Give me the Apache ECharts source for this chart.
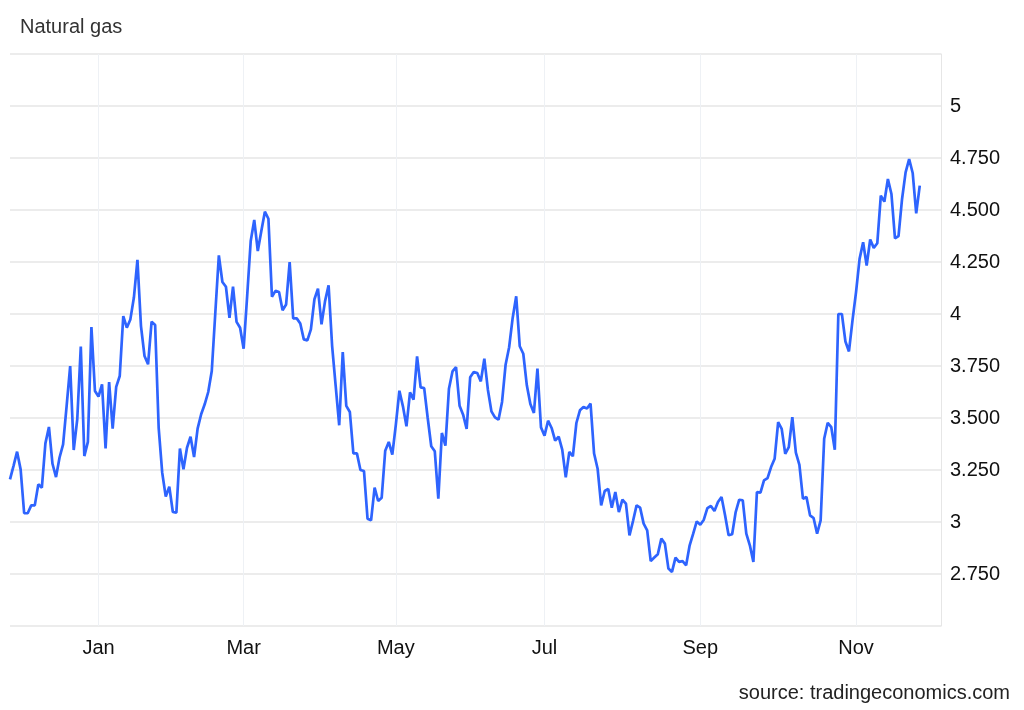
<!DOCTYPE html>
<html>
<head>
<meta charset="utf-8">
<script src="https://cdn.jsdelivr.net/npm/echarts@6/dist/echarts.min.js"></script>
<style>
  html, body { margin: 0; padding: 0; background: #ffffff; }
  #chart { width: 1024px; height: 710px; }
</style>
</head>
<body>
<div id="chart"></div>
<script>
// Trading days (categories)
const dates = [
  '2024-11-25','2024-11-26','2024-11-27','2024-11-29',
  '2024-12-02','2024-12-03','2024-12-04','2024-12-05','2024-12-06',
  '2024-12-09','2024-12-10','2024-12-11','2024-12-12','2024-12-13',
  '2024-12-16','2024-12-17','2024-12-18','2024-12-19','2024-12-20',
  '2024-12-23','2024-12-24','2024-12-26','2024-12-27','2024-12-30','2024-12-31',
  '2025-01-02','2025-01-03','2025-01-06','2025-01-07','2025-01-08','2025-01-09','2025-01-10',
  '2025-01-13','2025-01-14','2025-01-15','2025-01-16','2025-01-17',
  '2025-01-21','2025-01-22','2025-01-23','2025-01-24',
  '2025-01-27','2025-01-28','2025-01-29','2025-01-30','2025-01-31',
  '2025-02-03','2025-02-04','2025-02-05','2025-02-06','2025-02-07',
  '2025-02-10','2025-02-11','2025-02-12','2025-02-13','2025-02-14',
  '2025-02-17','2025-02-18','2025-02-19','2025-02-20','2025-02-21',
  '2025-02-24','2025-02-25','2025-02-26','2025-02-27','2025-02-28',
  '2025-03-03','2025-03-04','2025-03-05','2025-03-06','2025-03-07',
  '2025-03-10','2025-03-11','2025-03-12','2025-03-13','2025-03-14',
  '2025-03-17','2025-03-18','2025-03-19','2025-03-20','2025-03-21',
  '2025-03-24','2025-03-25','2025-03-26','2025-03-27','2025-03-28','2025-03-31',
  '2025-04-01','2025-04-02','2025-04-03','2025-04-04',
  '2025-04-07','2025-04-08','2025-04-09','2025-04-10','2025-04-11',
  '2025-04-14','2025-04-15','2025-04-16','2025-04-17','2025-04-18',
  '2025-04-21','2025-04-22','2025-04-23','2025-04-24','2025-04-25',
  '2025-04-28','2025-04-29','2025-04-30',
  '2025-05-01','2025-05-02',
  '2025-05-05','2025-05-06','2025-05-07','2025-05-08','2025-05-09',
  '2025-05-12','2025-05-13','2025-05-14','2025-05-15','2025-05-16',
  '2025-05-19','2025-05-20','2025-05-21','2025-05-22','2025-05-23',
  '2025-05-27','2025-05-28','2025-05-29','2025-05-30',
  '2025-06-02','2025-06-03','2025-06-04','2025-06-05','2025-06-06',
  '2025-06-09','2025-06-10','2025-06-11','2025-06-12','2025-06-13',
  '2025-06-16','2025-06-17','2025-06-18','2025-06-19','2025-06-20',
  '2025-06-23','2025-06-24','2025-06-25','2025-06-26','2025-06-27','2025-06-30',
  '2025-07-01','2025-07-02','2025-07-03','2025-07-04',
  '2025-07-07','2025-07-08','2025-07-09','2025-07-10','2025-07-11',
  '2025-07-14','2025-07-15','2025-07-16','2025-07-17','2025-07-18',
  '2025-07-21','2025-07-22','2025-07-23','2025-07-24','2025-07-25',
  '2025-07-28','2025-07-29','2025-07-30','2025-07-31',
  '2025-08-01',
  '2025-08-04','2025-08-05','2025-08-06','2025-08-07','2025-08-08',
  '2025-08-11','2025-08-12','2025-08-13','2025-08-14','2025-08-15',
  '2025-08-18','2025-08-19','2025-08-20','2025-08-21','2025-08-22',
  '2025-08-25','2025-08-26','2025-08-27','2025-08-28','2025-08-29',
  '2025-09-02','2025-09-03','2025-09-04','2025-09-05',
  '2025-09-08','2025-09-09','2025-09-10','2025-09-11','2025-09-12',
  '2025-09-15','2025-09-16','2025-09-17','2025-09-18','2025-09-19',
  '2025-09-22','2025-09-23','2025-09-24','2025-09-25','2025-09-26',
  '2025-09-29','2025-09-30',
  '2025-10-01','2025-10-02','2025-10-03',
  '2025-10-06','2025-10-07','2025-10-08','2025-10-09','2025-10-10',
  '2025-10-13','2025-10-14','2025-10-15','2025-10-16','2025-10-17',
  '2025-10-20','2025-10-21','2025-10-22','2025-10-23','2025-10-24',
  '2025-10-27','2025-10-28','2025-10-29','2025-10-30','2025-10-31',
  '2025-11-03','2025-11-04','2025-11-05','2025-11-06','2025-11-07',
  '2025-11-10','2025-11-11','2025-11-12','2025-11-13','2025-11-14',
  '2025-11-17','2025-11-18','2025-11-19','2025-11-20','2025-11-21',
  '2025-11-24','2025-11-25','2025-11-26','2025-11-28'
];
// Empty days after the last quote (right-hand room on the axis)
const padDates = ['2025-12-01','2025-12-02','2025-12-03','2025-12-04','2025-12-05','2025-12-08'];

// Natural gas price (USD/MMBtu), one value per trading day
const prices = [
  3.205,3.27,3.338,3.253,3.042,3.042,3.08,3.08,3.181,3.165,
  3.378,3.457,3.28,3.216,3.31,3.373,3.558,3.75,3.346,3.494,
  3.843,3.317,3.385,3.937,3.63,3.603,3.662,3.354,3.673,3.449,
  3.65,3.702,3.99,3.934,3.974,4.079,4.26,3.942,3.798,3.758,
  3.963,3.947,3.453,3.237,3.122,3.17,3.048,3.045,3.353,3.253,
  3.357,3.41,3.312,3.449,3.518,3.566,3.625,3.726,4.006,4.282,
  4.154,4.131,3.982,4.131,3.962,3.934,3.833,4.087,4.351,4.452,
  4.303,4.399,4.492,4.458,4.083,4.111,4.106,4.018,4.046,4.25,
  3.979,3.979,3.954,3.878,3.873,3.926,4.071,4.122,3.95,4.062,
  4.138,3.846,3.654,3.465,3.817,3.558,3.529,3.33,3.33,3.25,
  3.245,3.016,3.008,3.165,3.101,3.117,3.343,3.385,3.324,3.468,
  3.631,3.556,3.46,3.623,3.588,3.796,3.647,3.644,3.5,3.364,
  3.34,3.112,3.428,3.367,3.641,3.724,3.745,3.559,3.516,3.447,
  3.696,3.721,3.716,3.676,3.785,3.636,3.532,3.503,3.492,3.577,
  3.756,3.84,3.981,4.085,3.845,3.809,3.657,3.567,3.524,3.737,
  3.455,3.415,3.487,3.452,3.391,3.41,3.348,3.215,3.337,3.316,
  3.476,3.537,3.553,3.546,3.569,3.329,3.256,3.08,3.149,3.159,
  3.069,3.144,3.048,3.107,3.088,2.936,3.005,3.08,3.069,2.992,
  2.96,2.812,2.829,2.845,2.92,2.896,2.776,2.76,2.829,2.808,
  2.812,2.792,2.888,2.944,3.003,2.987,3.011,3.067,3.077,3.053,
  3.096,3.12,3.032,2.936,2.941,3.048,3.107,3.104,2.944,2.888,
  2.808,3.144,3.141,3.2,3.211,3.264,3.304,3.48,3.448,3.328,
  3.36,3.504,3.333,3.275,3.112,3.12,3.032,3.019,2.944,3.008,
  3.4,3.477,3.456,3.347,4.0,4.0,3.868,3.82,3.969,4.105,
  4.265,4.345,4.233,4.358,4.318,4.34,4.569,4.54,4.649,4.577,
  4.364,4.374,4.553,4.681,4.745,4.678,4.484,4.617
];

const monthNames = ['Jan','Feb','Mar','Apr','May','Jun','Jul','Aug','Sep','Oct','Nov','Dec'];
const labelMonths = [1,3,5,7,9,11];
const yMin = 2.5, yMax = 5.25, yStep = 0.25;

const allDates = dates.concat(padDates);
const tickIdx = new Set();
for (let i = 1; i < allDates.length; i++) {
  const m = +allDates[i].slice(5,7), pm = +allDates[i-1].slice(5,7);
  if (m !== pm && labelMonths.indexOf(m) >= 0) tickIdx.add(i);
}
const isTick = (i) => tickIdx.has(i);

const FONT = 'Liberation Sans, Arial, Helvetica, sans-serif';
const chart = echarts.init(document.getElementById('chart'), null, { renderer: 'canvas' });
chart.setOption({
  animation: false,
  backgroundColor: '#ffffff',
  title: {
    text: 'Natural gas',
    left: 20, top: 17, padding: 0,
    textStyle: { fontFamily: FONT, fontSize: 20, fontWeight: 'normal', color: '#333333' }
  },
  graphic: [{
    type: 'text', right: 14, top: 683,
    style: { text: 'source: tradingeconomics.com', fontFamily: FONT, fontSize: 20, fill: '#222222' }
  }],
  grid: { left: 10, right: 83, top: 54, bottom: 84, containLabel: false },
  xAxis: {
    type: 'category',
    data: allDates,
    boundaryGap: false,
    axisLine: { show: false },
    axisTick: { show: false },
    axisLabel: {
      interval: (i) => isTick(i),
      formatter: (v) => monthNames[+v.slice(5,7) - 1],
      fontFamily: FONT, fontSize: 20, color: '#111111', margin: 12,
      hideOverlap: false
    },
    splitLine: { show: true, interval: (i) => isTick(i), lineStyle: { color: '#eef1f5', width: 1 } }
  },
  yAxis: {
    type: 'value',
    position: 'right',
    min: yMin, max: yMax, interval: yStep,
    axisLine: { show: true, lineStyle: { color: '#e6e6e6', width: 1 } },
    axisTick: { show: false },
    axisLabel: {
      showMinLabel: false, showMaxLabel: false,
      formatter: (v) => Number.isInteger(v) ? String(v) : v.toFixed(3),
      fontFamily: FONT, fontSize: 20, color: '#111111', margin: 9
    },
    splitLine: { show: true, lineStyle: { color: '#e6e6e6', width: 1.5 } }
  },
  series: [{
    type: 'line',
    data: prices,
    symbol: 'none',
    smooth: false,
    lineStyle: { color: '#2e64fe', width: 2.7 },
    itemStyle: { color: '#2e64fe' }
  }]
});
</script>
</body>
</html>
